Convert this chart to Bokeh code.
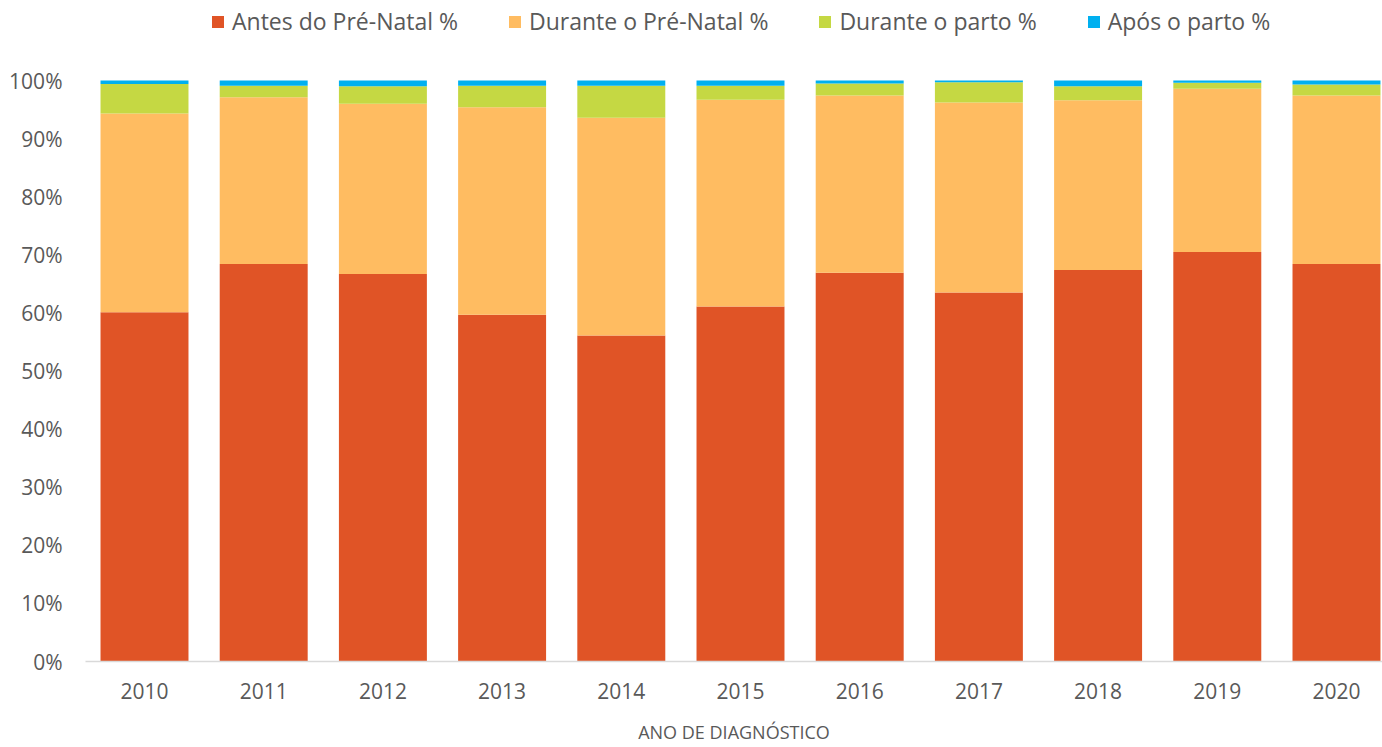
from bokeh.plotting import figure
from bokeh.models import (ColumnDataSource, Range1d, FixedTicker, PrintfTickFormatter,
                          Legend, LegendItem)
from bokeh.embed import file_html
from bokeh.resources import INLINE

years = [2010, 2011, 2012, 2013, 2014, 2015, 2016, 2017, 2018, 2019, 2020]
antes_prenatal = [60.1, 68.4, 66.7, 59.7, 56.1, 61.1, 66.9, 63.5, 67.4, 70.5, 68.4]
durante_prenatal = [34.2, 28.7, 29.3, 35.7, 37.5, 35.6, 30.5, 32.7, 29.2, 28.1, 29.0]
durante_parto = [5.1, 2.0, 3.0, 3.7, 5.5, 2.4, 2.1, 3.5, 2.4, 1.0, 1.9]
apos_parto = [0.6, 0.9, 1.0, 0.9, 0.9, 0.9, 0.5, 0.3, 1.0, 0.4, 0.7]

series_keys = ["antes", "durante_pn", "durante_parto", "apos"]
series_labels = ["Antes do Pré-Natal %", "Durante o Pré-Natal %", "Durante o parto %", "Após o parto %"]
colors = ["#E05426", "#FFBC61", "#C5D843", "#00B0F0"]
y_ticks = [0, 10, 20, 30, 40, 50, 60, 70, 80, 90, 100]
x_title = "ANO DE DIAGNÓSTICO"

source = ColumnDataSource(dict(
    x=years,
    antes=antes_prenatal,
    durante_pn=durante_prenatal,
    durante_parto=durante_parto,
    apos=apos_parto,
))

FONT = "Open Sans"
TXT = "#595959"

p = figure(width=1382, height=747, output_backend="svg", toolbar_location=None,
           x_range=Range1d(2009.505, 2020.386), y_range=Range1d(0, 113.77),
           min_border_left=85, min_border_right=0, min_border_top=0, min_border_bottom=86)

renderers = p.vbar_stack(series_keys, x="x", width=0.738, color=colors, line_color=None,
                         source=source)

p.xgrid.visible = False
p.ygrid.visible = False
p.outline_line_color = None

xa = p.xaxis[0]
xa.ticker = FixedTicker(ticks=years)
xa.major_tick_line_color = None
xa.minor_tick_line_color = None
xa.major_tick_out = 0
xa.axis_line_color = "#D9D9D9"
xa.axis_line_width = 1.5
xa.major_label_text_font = FONT
xa.major_label_text_font_size = "21px"
xa.major_label_text_color = TXT
xa.major_label_standoff = 21
xa.axis_label = x_title
xa.axis_label_text_font = FONT
xa.axis_label_text_font_size = "18px"
xa.axis_label_text_font_style = "normal"
xa.axis_label_text_color = TXT
xa.axis_label_standoff = 18

ya = p.yaxis[0]
ya.ticker = FixedTicker(ticks=y_ticks)
ya.formatter = PrintfTickFormatter(format="%d%%")
ya.major_tick_line_color = None
ya.minor_tick_line_color = None
ya.major_tick_out = 0
ya.axis_line_color = None
ya.major_label_text_font = FONT
ya.major_label_text_font_size = "21px"
ya.major_label_text_color = TXT
ya.major_label_standoff = 23

legend = Legend(items=[LegendItem(label=lab, renderers=[r]) for lab, r in zip(series_labels, renderers)],
                location=(125, 624), orientation="horizontal",
                glyph_width=15, glyph_height=15, label_standoff=7, spacing=49,
                padding=0, margin=0, border_line_color=None, background_fill_alpha=0,
                label_text_font=FONT, label_text_font_size="23px", label_text_color=TXT)
p.add_layout(legend, "center")

open("out.html", "w").write(file_html(p, INLINE))
